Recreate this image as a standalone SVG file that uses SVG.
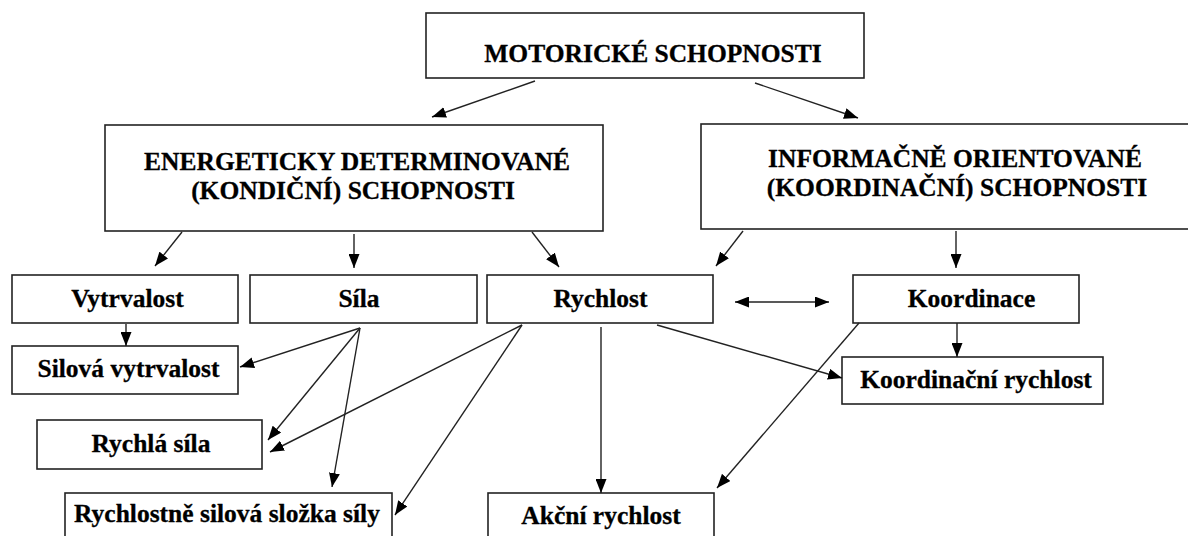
<svg xmlns="http://www.w3.org/2000/svg" width="1188" height="536" viewBox="0 0 1188 536">
<style>
.box{fill:#fff;stroke:#222;stroke-width:1.6}
.t{font-family:"Liberation Serif","Times New Roman",serif;font-weight:bold;font-size:25.5px;fill:#000;stroke:#000;stroke-width:0.3;text-anchor:middle}
.c{fill:none;stroke:#222;stroke-width:1.4}
</style>
<defs>
<marker id="ah" viewBox="0 0 14 11" refX="14" refY="5.5" markerWidth="14" markerHeight="11" orient="auto-start-reverse" markerUnits="userSpaceOnUse">
<path d="M0,0 L14,5.5 L0,11 z" fill="#000"/>
</marker>
</defs>
<rect width="1188" height="536" fill="#fff"/>
<g id="motoricke">
<rect class="box" x="426" y="13" width="438" height="65"/>
<text class="t" x="653" y="62" font-size="26">MOTORICKÉ SCHOPNOSTI</text>
</g>
<g id="energeticky">
<rect class="box" x="105" y="125" width="498" height="106"/>
<text class="t" x="357" y="170">ENERGETICKY DETERMINOVANÉ</text>
<text class="t" x="353" y="199">(KONDIČNÍ) SCHOPNOSTI</text>
</g>
<g id="informacne">
<rect class="box" x="701" y="124" width="500" height="105"/>
<text class="t" x="955" y="167">INFORMAČNĚ ORIENTOVANÉ</text>
<text class="t" x="957" y="196">(KOORDINAČNÍ) SCHOPNOSTI</text>
</g>
<g id="vytrvalost">
<rect class="box" x="12" y="275" width="226" height="48"/>
<text class="t" x="127.5" y="307">Vytrvalost</text>
</g>
<g id="sila">
<rect class="box" x="250" y="275" width="227" height="48"/>
<text class="t" x="359" y="307">Síla</text>
</g>
<g id="rychlost">
<rect class="box" x="487" y="275" width="226" height="48"/>
<text class="t" x="600.5" y="307">Rychlost</text>
</g>
<g id="koordinace">
<rect class="box" x="853" y="275" width="226" height="48"/>
<text class="t" x="971.5" y="307">Koordinace</text>
</g>
<g id="silova-vytrvalost">
<rect class="box" x="12" y="346" width="226" height="48"/>
<text class="t" x="128.5" y="377">Silová vytrvalost</text>
</g>
<g id="rychla-sila">
<rect class="box" x="37" y="420" width="225" height="49"/>
<text class="t" x="151" y="452">Rychlá síla</text>
</g>
<g id="rychlostne-silova">
<rect class="box" x="65" y="493" width="327" height="70"/>
<text class="t" x="227" y="522">Rychlostně silová složka síly</text>
</g>
<g id="akcni-rychlost">
<rect class="box" x="488" y="493" width="226" height="70"/>
<text class="t" x="601" y="524">Akční rychlost</text>
</g>
<g id="koordinacni-rychlost">
<rect class="box" x="842" y="357" width="261" height="47"/>
<text class="t" x="976" y="388">Koordinační rychlost</text>
</g>
<g id="connectors">
<line class="c" x1="535" y1="81" x2="432" y2="117" marker-end="url(#ah)"/>
<line class="c" x1="755" y1="83" x2="858" y2="118" marker-end="url(#ah)"/>
<line class="c" x1="182" y1="232" x2="155" y2="266" marker-end="url(#ah)"/>
<line class="c" x1="354" y1="234" x2="354" y2="268" marker-end="url(#ah)"/>
<line class="c" x1="532" y1="232" x2="559" y2="267" marker-end="url(#ah)"/>
<line class="c" x1="743" y1="231" x2="716" y2="266" marker-end="url(#ah)"/>
<line class="c" x1="956" y1="231" x2="956" y2="268" marker-end="url(#ah)"/>
<line class="c" x1="735" y1="302" x2="829" y2="302" marker-start="url(#ah)" marker-end="url(#ah)"/>
<line class="c" x1="126" y1="324" x2="126" y2="346" marker-end="url(#ah)"/>
<line class="c" x1="360" y1="328" x2="240" y2="367" marker-end="url(#ah)"/>
<line class="c" x1="360" y1="328" x2="268" y2="440" marker-end="url(#ah)"/>
<line class="c" x1="360" y1="328" x2="332" y2="487" marker-end="url(#ah)"/>
<line class="c" x1="522" y1="325" x2="270" y2="452" marker-end="url(#ah)"/>
<line class="c" x1="522" y1="325" x2="395" y2="515" marker-end="url(#ah)"/>
<line class="c" x1="601" y1="327" x2="601" y2="493" marker-end="url(#ah)"/>
<line class="c" x1="657" y1="325" x2="842" y2="378" marker-end="url(#ah)"/>
<line class="c" x1="859" y1="323" x2="717" y2="488" marker-end="url(#ah)"/>
<line class="c" x1="957" y1="323" x2="957" y2="357" marker-end="url(#ah)"/>
</g>
</svg>
